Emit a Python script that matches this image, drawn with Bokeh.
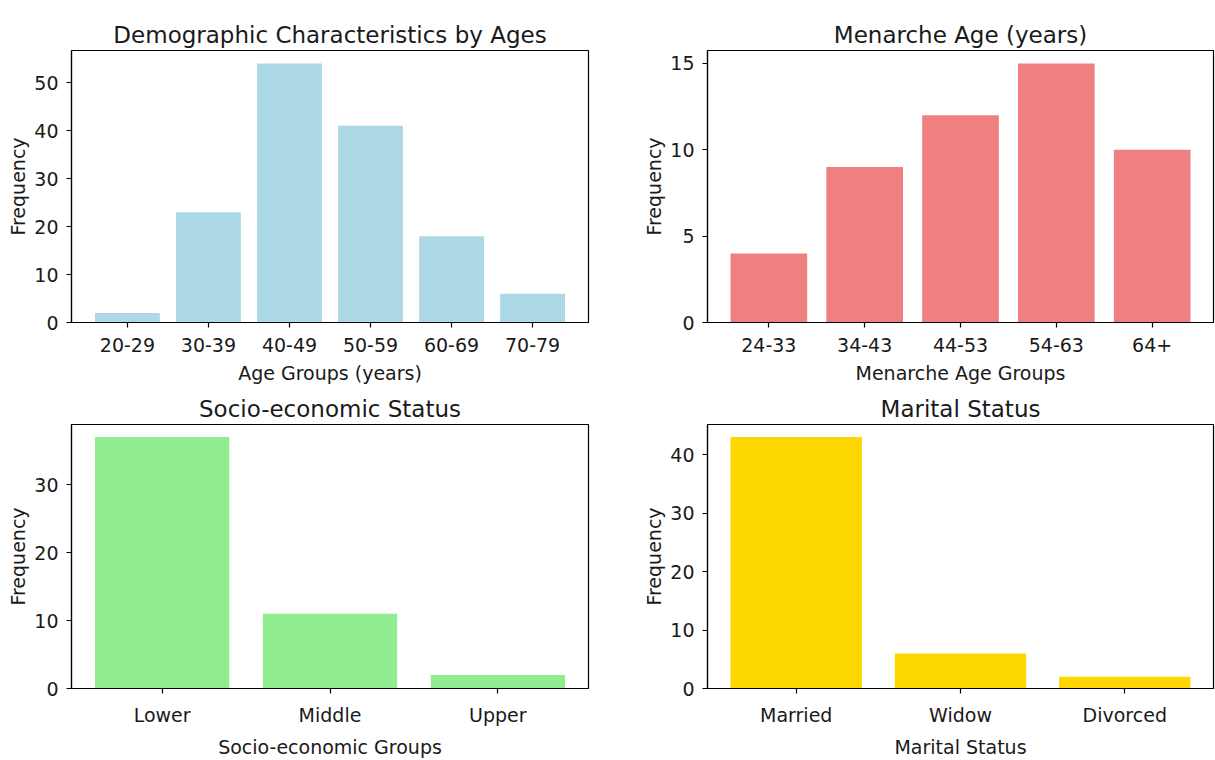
from bokeh.plotting import figure
from bokeh.layouts import gridplot
from bokeh.models import Range1d, FixedTicker, SingleIntervalTicker
from bokeh.embed import file_html
from bokeh.resources import INLINE

age_groups = ["20-29", "30-39", "40-49", "50-59", "60-69", "70-79"]
age_counts = [2, 23, 54, 41, 18, 6]

menarche_groups = ["24-33", "34-43", "44-53", "54-63", "64+"]
menarche_counts = [4, 9, 12, 15, 10]

socio_groups = ["Lower", "Middle", "Upper"]
socio_counts = [37, 11, 2]

marital_groups = ["Married", "Widow", "Divorced"]
marital_counts = [43, 6, 2]

FONT = "DejaVu Sans"
TXT = "#1a1a1a"


def make(cats, vals, color, title, xlabel, ystep, width, height,
         bl, br, bt, bb):
    n = len(cats)
    xs = list(range(n))
    pad = 0.05 * (n - 0.2)
    p = figure(width=width, height=height, output_backend="svg",
               toolbar_location=None,
               x_range=Range1d(-0.4 - pad, n - 1 + 0.4 + pad),
               y_range=Range1d(0, max(vals) * 1.05),
               min_border_left=bl, min_border_right=br,
               min_border_top=bt, min_border_bottom=bb)
    p.vbar(x=xs, top=vals, width=0.8, bottom=0, color=color, line_color=None)
    p.title.text = title
    p.title.align = "center"
    p.title.text_font = FONT
    p.title.text_font_size = "23px"
    p.title.text_font_style = "normal"
    p.title.text_color = TXT
    p.title.standoff = 6
    p.xgrid.visible = False
    p.ygrid.visible = False
    p.outline_line_color = "black"
    p.outline_line_width = 1.2
    p.outline_line_alpha = 1

    p.xaxis.ticker = FixedTicker(ticks=xs)
    p.xaxis.major_label_overrides = {i: c for i, c in enumerate(cats)}
    p.xaxis.axis_label = xlabel
    p.yaxis.ticker = SingleIntervalTicker(interval=ystep)
    p.yaxis.axis_label = "Frequency"
    for ax in (p.xaxis[0], p.yaxis[0]):
        ax.axis_line_color = "black"
        ax.axis_line_width = 1.2
        ax.major_tick_line_color = "black"
        ax.major_tick_line_width = 1.2
        ax.major_tick_in = 0
        ax.major_tick_out = 5
        ax.minor_tick_line_color = None
        ax.major_label_text_font = FONT
        ax.major_label_text_font_size = "19px"
        ax.major_label_text_color = TXT
        ax.axis_label_text_font = FONT
        ax.axis_label_text_font_size = "19px"
        ax.axis_label_text_font_style = "normal"
        ax.axis_label_text_color = TXT
    p.xaxis.major_label_standoff = 10
    p.xaxis.axis_label_standoff = 7
    p.yaxis.major_label_standoff = 8
    p.yaxis.axis_label_standoff = 2
    p.background_fill_color = "white"
    p.border_fill_color = "white"
    return p


p1 = make(age_groups, age_counts, "#ADD8E6", "Demographic Characteristics by Ages",
          "Age Groups (years)", 10, 640, 388, 71, 52, 50, 66)
p2 = make(menarche_groups, menarche_counts, "#F08080", "Menarche Age (years)",
          "Menarche Age Groups", 5, 575, 388, 65, 2, 50, 66)
p3 = make(socio_groups, socio_counts, "#90EE90", "Socio-economic Status",
          "Socio-economic Groups", 10, 640, 372, 71, 52, 36, 66)
p4 = make(marital_groups, marital_counts, "#FFD700", "Marital Status",
          "Marital Status", 10, 575, 372, 65, 2, 36, 66)

grid = gridplot([[p1, p2], [p3, p4]], toolbar_location=None)

open("out.html", "w").write(file_html(grid, INLINE))
